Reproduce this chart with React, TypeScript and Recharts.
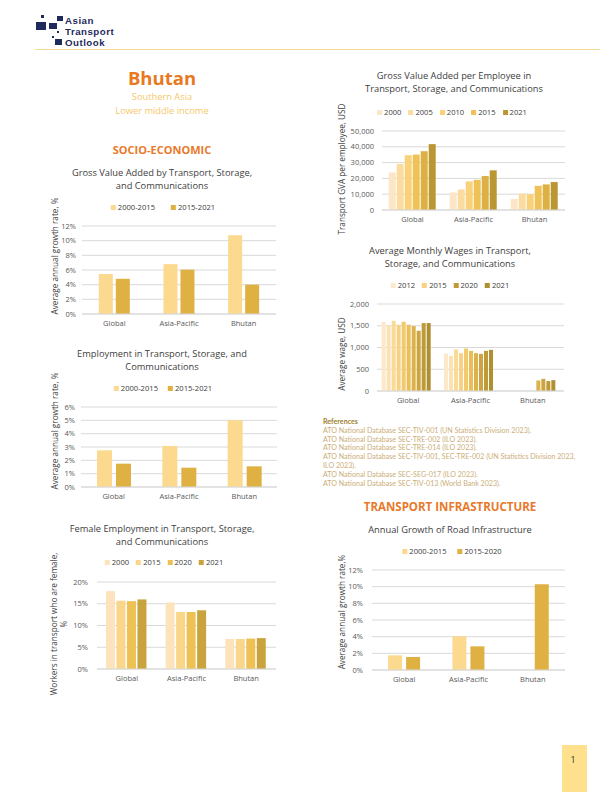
import React from 'react';
import { BarChart, Bar, XAxis, YAxis, CartesianGrid } from 'recharts';

// categories shared by every panel
const categories = ['Global', 'Asia-Pacific', 'Bhutan'];

// GVA growth (% per year)
const gvaPeriods = ['2000-2015', '2015-2021'];
const gvaGrowthEarly = [5.45, 6.8, 10.75];
const gvaGrowthLate = [4.8, 6.05, 4.0];

// employment growth (% per year)
const empPeriods = ['2000-2015', '2015-2021'];
const empGrowthEarly = [2.75, 3.08, 5.0];
const empGrowthLate = [1.75, 1.45, 1.55];

// female share of transport workers (%)
const femaleYears = ['2000', '2015', '2020', '2021'];
const femaleGlobal = [17.9, 15.7, 15.6, 16.0];
const femaleAsiaPacific = [15.3, 13.1, 13.1, 13.5];
const femaleBhutan = [6.9, 6.9, 7.0, 7.1];

// GVA per employee (USD)
const gvaEmpYears = ['2000', '2005', '2010', '2015', '2020', '2021'];
const gvaEmpLegend = ['2000', '2005', '2010', '2015', '2021'];
const gvaEmpGlobal = [23800, 29100, 34700, 35100, 37200, 41700];
const gvaEmpAsiaPacific = [11100, 13000, 18100, 19100, 21500, 25100];
const gvaEmpBhutan = [7000, 10400, 10000, 15300, 16200, 17700];

// monthly wages (USD)
const wageYears = ['2012', '2013', '2014', '2015', '2016', '2017', '2018', '2019', '2020', '2021'];
const wageLegend = ['2012', '2015', '2020', '2021'];
const wageGlobal = [1585, 1508, 1615, 1523, 1592, 1523, 1492, 1385, 1562, 1562];
const wageAsiaPacific = [862, 808, 954, 869, 977, 923, 869, 854, 923, 946];
const wageBhutan = [null, null, null, null, null, null, 242, 280, 228, 250];

// road infrastructure growth (% per year)
const roadPeriods = ['2000-2015', '2015-2020'];
const roadGrowthEarly = [1.76, 4.04, null];
const roadGrowthLate = [1.56, 2.84, 10.28];

const twoColors = ['#FBD98E', '#DFB142'];
const femaleColors = ['#FCE3BB', '#F9D68A', '#EDC153', '#C9A43E'];
const gvaEmpColors = ['#FDE6C8', '#FBDCA0', '#F8D17A', '#EFC257', '#DDB044', '#BB9733'];
const wageColors = ['#FDE8CC', '#FCE1B2', '#FADA98', '#F8D283', '#F3C96D', '#EABF58', '#DDB24A', '#CDA540', '#BE9A38', '#B08F31'];

const font = '"Open Sans", "Noto Sans", sans-serif';
const tickStyle = { fontSize: 7.5, fill: '#595959', fontFamily: font };

const byPeriod = (keys: string[], series: (number | null)[][]) =>
  categories.map((name, ci) => {
    const row: any = { name };
    keys.forEach((k, si) => (row[k] = series[si][ci]));
    return row;
  });

const byCategory = (keys: string[], rows: (number | null)[][]) =>
  categories.map((name, ci) => {
    const row: any = { name };
    keys.forEach((k, si) => (row[k] = rows[ci][si]));
    return row;
  });

const Txt = ({ x, y, children, style }: any) => (
  <div style={{ position: 'absolute', left: x, top: y, transform: 'translate(-50%, -50%)', whiteSpace: 'nowrap', fontFamily: font, ...style }}>
    {children}
  </div>
);

const VTxt = ({ x, y, children }: any) => (
  <div style={{ position: 'absolute', left: x, top: y, transform: 'translate(-50%, -50%) rotate(-90deg)', whiteSpace: 'nowrap', fontFamily: font, fontSize: 8.2, color: '#404040', textAlign: 'center', lineHeight: '10px' }}>
    {children}
  </div>
);

const Title = ({ x, y, lines }: any) => (
  <div style={{ position: 'absolute', left: x, top: y, transform: 'translateX(-50%)', whiteSpace: 'nowrap', fontFamily: font, fontSize: 9.3, color: '#404040', textAlign: 'center', lineHeight: '12.5px' }}>
    {lines.map((l: string) => <div key={l}>{l}</div>)}
  </div>
);

const Legend2 = ({ x, y, labels, colors, gap }: any) => (
  <div style={{ position: 'absolute', left: x, top: y, transform: 'translate(-50%, -50%)', display: 'flex', gap, whiteSpace: 'nowrap', fontFamily: font, fontSize: 7.6, color: '#404040', alignItems: 'center' }}>
    {labels.map((l: string, i: number) => (
      <div key={l} style={{ display: 'flex', alignItems: 'center', gap: 2 }}>
        <span style={{ width: 5, height: 5, background: colors[i], display: 'inline-block' }} />
        {l}
      </div>
    ))}
  </div>
);

const Panel = ({ data, keys, colors, plot, domain, ticks, fmt, gap, barGap, yGap = 4 }: any) => {
  const yw = 45;
  const left = plot.l - yw;
  const top = plot.t - 6;
  const width = plot.r - left + 4;
  const height = plot.b - top + 24;
  return (
    <div style={{ position: 'absolute', left, top }}>
      <BarChart width={width} height={height} data={data} margin={{ top: 6, right: 4, left: 0, bottom: 0 }} barCategoryGap={gap} barGap={barGap}>
        <CartesianGrid vertical={false} stroke="#d9d9d9" />
        <XAxis dataKey="name" height={24} interval={0} tickLine={false} axisLine={{ stroke: '#d9d9d9' }} tick={tickStyle} tickSize={4} tickMargin={3} />
        <YAxis width={yw} domain={domain} ticks={ticks} interval={0} tickFormatter={fmt} axisLine={false} tickLine={false} tick={tickStyle} tickSize={2} tickMargin={yGap} />
        {keys.map((k: string, i: number) => (
          <Bar key={k} dataKey={k} fill={colors[i]} isAnimationActive={false} />
        ))}
      </BarChart>
    </div>
  );
};

const pct = (v: number) => `${v}%`;
const num = (v: number) => v.toLocaleString('en-US');

const Logo = () => (
  <svg style={{ position: 'absolute', left: 0, top: 0 }} width={70} height={50}>
    <g fill="#1F2A5C">
      <rect x={36} y={22} width={10} height={8} />
      <rect x={49} y={23} width={8} height={6} />
      <rect x={41} y={15} width={3} height={3} />
      <rect x={57} y={16} width={6} height={5} />
      <rect x={57} y={31} width={2} height={2} />
      <rect x={52} y={36} width={2} height={2} />
      <rect x={55} y={39} width={7} height={6} />
    </g>
  </svg>
);

export default function App() {
  const gvaData = byPeriod(gvaPeriods, [gvaGrowthEarly, gvaGrowthLate]);
  const empData = byPeriod(empPeriods, [empGrowthEarly, empGrowthLate]);
  const femaleData = byCategory(femaleYears, [femaleGlobal, femaleAsiaPacific, femaleBhutan]);
  const gvaEmpData = byCategory(gvaEmpYears, [gvaEmpGlobal, gvaEmpAsiaPacific, gvaEmpBhutan]);
  const wageData = byCategory(wageYears, [wageGlobal, wageAsiaPacific, wageBhutan]);
  const roadData = byPeriod(roadPeriods, [roadGrowthEarly, roadGrowthLate]);

  return (
    <div style={{ position: 'absolute', left: 0, top: 0, width: 612, height: 792, background: '#fff', overflow: 'hidden', fontFamily: font }}>
      <Logo />
      <div style={{ position: 'absolute', left: 65, top: 15, fontFamily: '"Liberation Sans", Arial, sans-serif', fontWeight: 700, fontSize: 9.7, lineHeight: '11.2px', letterSpacing: 0.5, color: '#1F2A5C' }}>
        Asian<br />Transport<br />Outlook
      </div>
      <div style={{ position: 'absolute', left: 35, top: 49, width: 565, height: 1, background: '#F5DB98' }} />

      <Txt x={162} y={77} style={{ fontSize: 18.5, fontWeight: 700, color: '#E8791E' }}>Bhutan</Txt>
      <Txt x={162} y={96} style={{ fontSize: 9.3, color: '#F5C96A' }}>Southern Asia</Txt>
      <Txt x={162} y={110} style={{ fontSize: 9.3, color: '#F5C96A' }}>Lower middle income</Txt>
      <Txt x={162} y={149} style={{ fontSize: 11, fontWeight: 700, color: '#E8792A' }}>SOCIO-ECONOMIC</Txt>

      {/* GVA growth */}
      <Title x={162} y={167} lines={['Gross Value Added by Transport, Storage,', 'and Communications']} />
      <Legend2 x={163} y={207} labels={gvaPeriods} colors={twoColors} gap={16} />
      <VTxt x={55} y={256}>Average annual growth rate, %</VTxt>
      <Panel data={gvaData} keys={gvaPeriods} colors={twoColors} plot={{ l: 82, t: 226, r: 276, b: 314 }} domain={[0, 12]} ticks={[0, 2, 4, 6, 8, 10, 12]} fmt={pct} gap="26%" barGap={3} />

      {/* Employment growth */}
      <Title x={162} y={348} lines={['Employment in Transport, Storage, and', 'Communications']} />
      <Legend2 x={163} y={388} labels={empPeriods} colors={twoColors} gap={10} />
      <VTxt x={55} y={431}>Average annual growth rate, %</VTxt>
      <Panel data={empData} keys={empPeriods} colors={twoColors} plot={{ l: 81, t: 407, r: 277, b: 487 }} domain={[0, 6]} ticks={[0, 1, 2, 3, 4, 5, 6]} fmt={pct} gap="24.5%" barGap={4} />

      {/* Female employment */}
      <Title x={162} y={523} lines={['Female Employment in Transport, Storage,', 'and Communications']} />
      <Legend2 x={164} y={562} labels={femaleYears} colors={femaleColors} gap={7} />
      <VTxt x={59} y={624}>
        <div>Workers in transport who are female,</div>
        <div>%</div>
      </VTxt>
      <Panel data={femaleData} keys={femaleYears} colors={femaleColors} plot={{ l: 97, t: 582, r: 276, b: 669 }} domain={[0, 20]} ticks={[0, 5, 10, 15, 20]} fmt={pct} gap="15%" barGap={1.5} yGap={7} />

      {/* GVA per employee */}
      <Title x={454} y={70} lines={['Gross Value Added per Employee in', 'Transport, Storage, and Communications']} />
      <Legend2 x={452} y={112} labels={gvaEmpLegend} colors={[0, 1, 2, 3, 5].map((i) => gvaEmpColors[i])} gap={7} />
      <VTxt x={342} y={169}>Transport GVA per employee, USD</VTxt>
      <Panel data={gvaEmpData} keys={gvaEmpYears} colors={gvaEmpColors} plot={{ l: 382, t: 131, r: 565, b: 210 }} domain={[0, 50000]} ticks={[0, 10000, 20000, 30000, 40000, 50000]} fmt={num} gap="11%" barGap={1} yGap={6} />

      {/* Wages */}
      <Title x={450} y={245} lines={['Average Monthly Wages in Transport,', 'Storage, and Communications']} />
      <Legend2 x={450} y={285} labels={wageLegend} colors={[0, 3, 8, 9].map((i) => wageColors[i])} gap={7} />
      <VTxt x={342} y={354}>Average wage, USD</VTxt>
      <Panel data={wageData} keys={wageYears} colors={wageColors} plot={{ l: 377, t: 304, r: 564, b: 391 }} domain={[0, 2000]} ticks={[0, 500, 1000, 1500, 2000]} fmt={num} gap="7.5%" barGap={1} yGap={6} />

      {/* References */}
      <div style={{ position: 'absolute', left: 323, top: 418, fontFamily: 'Lato, sans-serif', fontSize: 7.1, lineHeight: '8.8px', color: '#CBAE78' }}>
        <div style={{ fontWeight: 700, color: '#A0822E' }}>References</div>
        <div>ATO National Database SEC-TIV-001 (UN Statistics Division 2023).</div>
        <div>ATO National Database SEC-TRE-002 (ILO 2023).</div>
        <div>ATO National Database SEC-TRE-014 (ILO 2023).</div>
        <div style={{ width: 262 }}>ATO National Database SEC-TIV-001, SEC-TRE-002 (UN Statistics Division 2023, ILO 2023).</div>
        <div>ATO National Database SEC-SEG-017 (ILO 2023).</div>
        <div>ATO National Database SEC-TIV-013 (World Bank 2023).</div>
      </div>
      <Txt x={450} y={506} style={{ fontSize: 11.5, fontWeight: 700, color: '#E8792A' }}>TRANSPORT INFRASTRUCTURE</Txt>

      {/* Road growth */}
      <Title x={450} y={524} lines={['Annual Growth of Road Infrastructure']} />
      <Legend2 x={452} y={551} labels={roadPeriods} colors={twoColors} gap={11} />
      <VTxt x={342} y={612}>Average annual growth rate,%</VTxt>
      <Panel data={roadData} keys={roadPeriods} colors={twoColors} plot={{ l: 372, t: 570, r: 565, b: 670 }} domain={[0, 12]} ticks={[0, 2, 4, 6, 8, 10, 12]} fmt={pct} gap="25%" barGap={4} yGap={7} />

      <div style={{ position: 'absolute', left: 562, top: 745, width: 25, height: 47, background: '#FFE08C' }} />
      <Txt x={573} y={759} style={{ fontSize: 9, color: '#333' }}>1</Txt>
    </div>
  );
}
